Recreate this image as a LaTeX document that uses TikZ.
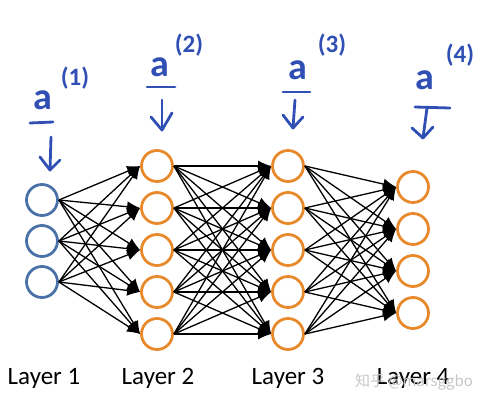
\documentclass[tikz,border=0pt]{standalone}
\usepackage{fontspec}
\setmainfont{Carlito}
\newfontfamily\cjkfont{Noto Sans CJK SC}
\usetikzlibrary{arrows.meta}
\definecolor{inblue}{HTML}{4A72A8}
\definecolor{unitorange}{HTML}{E8892C}
\definecolor{penblue}{HTML}{2F4FB4}

\begin{document}
\begin{tikzpicture}[x=1pt,y=-1pt,
  inunit/.style={circle,draw=inblue,line width=2.8pt,minimum size=31pt,inner sep=0pt},
  unit/.style={circle,draw=unitorange,line width=2.8pt,minimum size=31pt,inner sep=0pt},
  link/.style={line width=1.3pt,-{Latex[length=13pt,width=11pt]}},
  hand/.style={text=penblue,font=\bfseries\fontsize{38}{38}\selectfont,inner sep=0pt},
  handsup/.style={text=penblue,font=\bfseries\fontsize{25}{25}\selectfont,inner sep=0pt},
  pen/.style={draw=penblue,line width=2.8pt,line cap=round,line join=round},
  layername/.style={font=\fontsize{25}{25}\selectfont,text=black}]
\useasboundingbox (0,0) rectangle (484,407);

\foreach \y [count=\i] in {200,241,282} \node[inunit] (l1-\i) at (42,\y) {};
\foreach \y [count=\i] in {166,208,250,292,334} {
  \node[unit] (l2-\i) at (157,\y) {};
  \node[unit] (l3-\i) at (288,\y) {};
}
\foreach \y [count=\i] in {187,229,271,313} \node[unit] (l4-\i) at (413,\y) {};

\foreach \i in {1,2,3} \foreach \j in {1,...,5} \draw[link] (l1-\i.east) -- (l2-\j.west);
\foreach \i in {1,...,5} \foreach \j in {1,...,5} \draw[link] (l2-\i.east) -- (l3-\j.west);
\foreach \i in {1,...,5} \foreach \j in {1,...,4} \draw[link] (l3-\i.east) -- (l4-\j.west);

\node[hand] (a1) at (43,100) {a};
\node[handsup] (s1) at (75,78) {(1)};
\draw[pen] (30,123) -- (53,122);
\draw[pen] (51,137) -- (50,170);
\draw[pen] (40,157) -- (50,170) -- (60,160);

\node[hand] (a2) at (160,67) {a};
\node[handsup] (s2) at (189,45) {(2)};
\draw[pen] (147,87) -- (175,87);
\draw[pen] (162,100) -- (162,130);
\draw[pen] (151,117) -- (162,130) -- (172,113);

\node[hand] (a3) at (298,70) {a};
\node[handsup] (s3) at (332,45) {(3)};
\draw[pen] (283,92) -- (310,92);
\draw[pen] (295,100) -- (293,128);
\draw[pen] (283,115) -- (293,128) -- (303,117);

\node[hand] (a4) at (425,80) {a};
\node[handsup] (s4) at (460,55) {(4)};
\draw[pen] (415,107) -- (450,108);
\draw[pen] (427,108) -- (423,138);
\draw[pen] (412,128) -- (423,138) -- (433,127);

\node[layername] (n1) at (44,378) {Layer 1};
\node[layername] (n2) at (158,378) {Layer 2};
\node[layername] (n3) at (288,378) {Layer 3};
\node[layername] (n4) at (413,378) {Layer 4};

\node[text=gray!45,font=\cjkfont\fontsize{15}{15}\selectfont] (mark) at (414,382) {知乎 @marsggbo};
\end{tikzpicture}
\end{document}
